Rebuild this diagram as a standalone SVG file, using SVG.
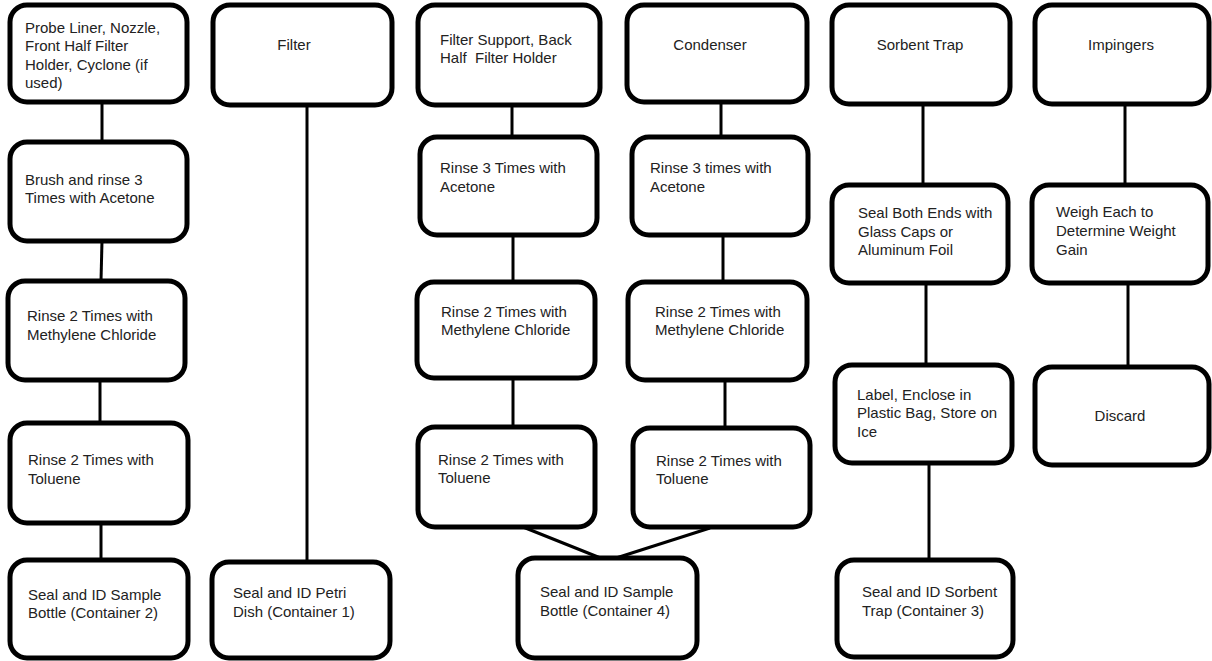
<svg xmlns="http://www.w3.org/2000/svg" width="1212" height="661" viewBox="0 0 1212 661">
<style>
.box{fill:#fff;stroke:#000;stroke-width:5}
.ln{stroke:#000;stroke-width:3;fill:none}
text{font-family:"Liberation Sans",Arial,sans-serif;font-size:15px;fill:#222;white-space:pre}
.c{text-anchor:middle}
</style>
<rect width="1212" height="661" fill="#fff"/>
<g id="connectors">
<line class="ln" x1="102" y1="102" x2="102" y2="142"/>
<line class="ln" x1="102" y1="241" x2="101" y2="281"/>
<line class="ln" x1="100" y1="380" x2="100" y2="423"/>
<line class="ln" x1="101" y1="523" x2="101" y2="560"/>
<line class="ln" x1="307" y1="105" x2="307" y2="562"/>
<line class="ln" x1="512" y1="105" x2="512" y2="137"/>
<line class="ln" x1="513" y1="235" x2="513" y2="282"/>
<line class="ln" x1="513" y1="378" x2="513" y2="427"/>
<line class="ln" x1="523" y1="527" x2="603" y2="559"/>
<line class="ln" x1="710" y1="528" x2="613" y2="559"/>
<line class="ln" x1="721" y1="102" x2="721" y2="137"/>
<line class="ln" x1="723" y1="235" x2="723" y2="282"/>
<line class="ln" x1="725" y1="380" x2="725" y2="428"/>
<line class="ln" x1="923" y1="104" x2="923" y2="185"/>
<line class="ln" x1="926" y1="283" x2="926" y2="365"/>
<line class="ln" x1="929" y1="463" x2="929" y2="560"/>
<line class="ln" x1="1125" y1="104" x2="1125" y2="185"/>
<line class="ln" x1="1128" y1="283" x2="1128" y2="367"/>
</g>
<g id="n1"><rect class="box" x="10" y="5" width="177" height="97" rx="17"/>
<text x="25" y="33">Probe Liner, Nozzle,</text><text x="25" y="51">Front Half Filter</text><text x="25" y="70">Holder, Cyclone (if</text><text x="25" y="88">used)</text></g>
<g id="n2"><rect class="box" x="10" y="142" width="177" height="99" rx="17"/>
<text x="25" y="185">Brush and rinse 3</text><text x="25" y="203">Times with Acetone</text></g>
<g id="n3"><rect class="box" x="8" y="281" width="177" height="99" rx="17"/>
<text x="27" y="321">Rinse 2 Times with</text><text x="27" y="340">Methylene Chloride</text></g>
<g id="n4"><rect class="box" x="10" y="423" width="178" height="100" rx="17"/>
<text x="28" y="465">Rinse 2 Times with</text><text x="28" y="484">Toluene</text></g>
<g id="n5"><rect class="box" x="10" y="560" width="178" height="98" rx="17"/>
<text x="28" y="600">Seal and ID Sample</text><text x="28" y="618">Bottle (Container 2)</text></g>
<g id="n6"><rect class="box" x="213" y="5" width="179" height="100" rx="17"/>
<text class="c" x="294" y="50">Filter</text></g>
<g id="n7"><rect class="box" x="212" y="562" width="178" height="96" rx="17"/>
<text x="233" y="598">Seal and ID Petri</text><text x="233" y="617">Dish (Container 1)</text></g>
<g id="n8"><rect class="box" x="418" y="5" width="182" height="100" rx="17"/>
<text x="440" y="45">Filter Support, Back</text><text x="440" y="63">Half  Filter Holder</text></g>
<g id="n9"><rect class="box" x="420" y="137" width="177" height="98" rx="17"/>
<text x="440" y="173">Rinse 3 Times with</text><text x="440" y="192">Acetone</text></g>
<g id="n10"><rect class="box" x="417" y="282" width="178" height="96" rx="17"/>
<text x="441" y="317">Rinse 2 Times with</text><text x="441" y="335">Methylene Chloride</text></g>
<g id="n11"><rect class="box" x="418" y="427" width="177" height="100" rx="17"/>
<text x="438" y="465">Rinse 2 Times with</text><text x="438" y="483">Toluene</text></g>
<g id="n12"><rect class="box" x="518" y="558" width="179" height="100" rx="17"/>
<text x="540" y="597">Seal and ID Sample</text><text x="540" y="616">Bottle (Container 4)</text></g>
<g id="n13"><rect class="box" x="627" y="5" width="180" height="97" rx="17"/>
<text class="c" x="710" y="50">Condenser</text></g>
<g id="n14"><rect class="box" x="632" y="137" width="176" height="98" rx="17"/>
<text x="650" y="173">Rinse 3 times with</text><text x="650" y="192">Acetone</text></g>
<g id="n15"><rect class="box" x="628" y="282" width="179" height="98" rx="17"/>
<text x="655" y="317">Rinse 2 Times with</text><text x="655" y="335">Methylene Chloride</text></g>
<g id="n16"><rect class="box" x="633" y="428" width="177" height="99" rx="17"/>
<text x="656" y="466">Rinse 2 Times with</text><text x="656" y="484">Toluene</text></g>
<g id="n17"><rect class="box" x="832" y="5" width="178" height="99" rx="17"/>
<text class="c" x="920" y="50">Sorbent Trap</text></g>
<g id="n18"><rect class="box" x="832" y="185" width="176" height="98" rx="17"/>
<text x="858" y="218">Seal Both Ends with</text><text x="858" y="237">Glass Caps or</text><text x="858" y="255">Aluminum Foil</text></g>
<g id="n19"><rect class="box" x="835" y="365" width="177" height="98" rx="17"/>
<text x="857" y="400">Label, Enclose in</text><text x="857" y="418">Plastic Bag, Store on</text><text x="857" y="437">Ice</text></g>
<g id="n20"><rect class="box" x="837" y="560" width="176" height="97" rx="17"/>
<text x="862" y="597">Seal and ID Sorbent</text><text x="862" y="616">Trap (Container 3)</text></g>
<g id="n21"><rect class="box" x="1035" y="5" width="174" height="99" rx="17"/>
<text class="c" x="1121" y="50">Impingers</text></g>
<g id="n22"><rect class="box" x="1032" y="185" width="176" height="98" rx="17"/>
<text x="1056" y="217">Weigh Each to</text><text x="1056" y="236">Determine Weight</text><text x="1056" y="255">Gain</text></g>
<g id="n23"><rect class="box" x="1035" y="367" width="174" height="98" rx="17"/>
<text class="c" x="1120" y="421">Discard</text></g>
</svg>
